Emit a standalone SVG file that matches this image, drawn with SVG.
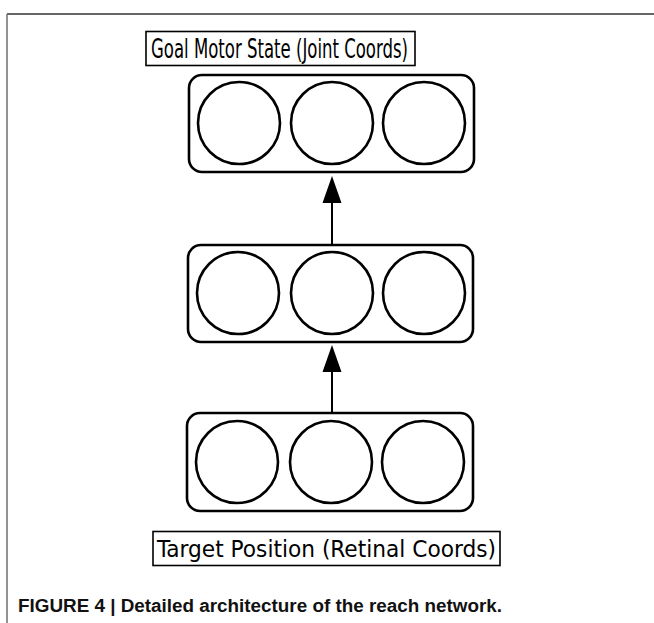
<svg xmlns="http://www.w3.org/2000/svg" width="654" height="623" viewBox="0 0 654 623">
<defs>
<style>
.mod{fill:#fff;stroke:#000;stroke-width:2.6}
.neu{fill:#fff;stroke:#000;stroke-width:2.6}
.lbl{fill:#fff;stroke:#000;stroke-width:1.6}
.lt{font-family:"DejaVu Sans Condensed","DejaVu Sans",sans-serif;fill:#000}
.cap{font-family:"Liberation Sans",Arial,sans-serif;font-weight:bold;font-size:18px;fill:#111}
.con{stroke:#000;stroke-width:2;fill:none}
</style>
</defs>
<rect width="654" height="623" fill="#fff"/>
<g id="frame">
<line x1="7" y1="14" x2="654" y2="14" stroke="#333" stroke-width="1.6"/>
<line x1="7" y1="14" x2="7" y2="623" stroke="#777" stroke-width="1.6"/>
</g>
<g id="label-top">
<rect class="lbl" x="146" y="31.5" width="269" height="34"/>
<text class="lt" x="151" y="58" font-size="26" textLength="257" lengthAdjust="spacingAndGlyphs">Goal Motor State (Joint Coords)</text>
</g>
<g id="layer-top">
<rect class="mod" x="189" y="75" width="285" height="97" rx="13"/>
<circle class="neu" cx="239" cy="123" r="41"/>
<circle class="neu" cx="332" cy="123" r="41"/>
<circle class="neu" cx="424" cy="123" r="41"/>
</g>
<g id="layer-middle">
<rect class="mod" x="188" y="245" width="285" height="97" rx="13"/>
<circle class="neu" cx="238" cy="293" r="41"/>
<circle class="neu" cx="332" cy="293" r="41"/>
<circle class="neu" cx="424" cy="293" r="41"/>
</g>
<g id="layer-bottom">
<rect class="mod" x="187" y="413" width="286" height="98" rx="13"/>
<circle class="neu" cx="237" cy="462" r="41"/>
<circle class="neu" cx="331" cy="462" r="41"/>
<circle class="neu" cx="423" cy="462" r="41"/>
</g>
<g id="connectors">
<line class="con" x1="332" y1="245" x2="332" y2="200"/>
<path d="M332,176 L341.5,203 L322.5,203 Z" fill="#000"/>
<line class="con" x1="332" y1="413" x2="332" y2="370"/>
<path d="M332,345 L341.5,372 L322.5,372 Z" fill="#000"/>
</g>
<g id="label-bottom">
<rect class="lbl" x="153" y="531.5" width="347" height="34"/>
<text class="lt" x="157" y="557" font-size="23" textLength="339" lengthAdjust="spacingAndGlyphs">Target Position (Retinal Coords)</text>
</g>
<text class="cap" x="18" y="612" textLength="484" lengthAdjust="spacingAndGlyphs">FIGURE 4 | Detailed architecture of the reach network.</text>
</svg>
